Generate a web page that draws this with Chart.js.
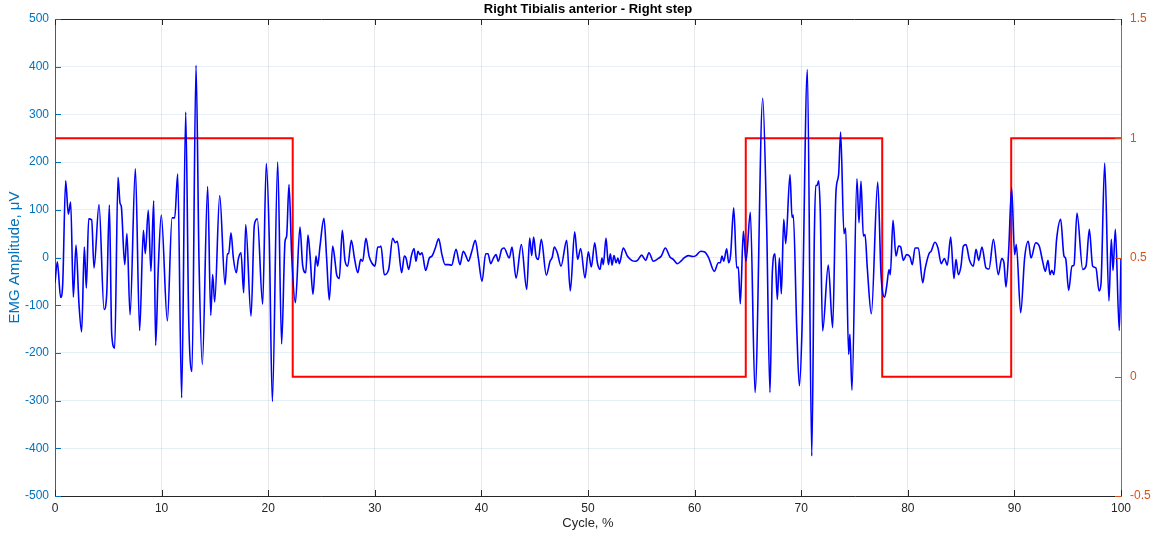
<!DOCTYPE html>
<html>
<head>
<meta charset="utf-8">
<script src="https://cdn.jsdelivr.net/npm/chart.js@4.4.1/dist/chart.umd.min.js"></script>
<style>
  html, body { margin: 0; padding: 0; background: #ffffff; }
  #wrap { width: 1152px; height: 533px; }
</style>
</head>
<body>
<div id="wrap"><canvas id="c" width="1152" height="533"></canvas></div>
<script>
// ---- Data ----
const chartTitle = 'Right Tibialis anterior - Right step';
const xTitle = 'Cycle, %';
const yTitle = 'EMG Amplitude, \u03BCV';

// EMG signal: cycle (%) and amplitude (µV)
const emgX = [
  0, 0.22, 0.53, 0.72, 1.00, 1.25, 1.47, 1.72, 1.97, 2.25, 2.50, 2.75, 2.94, 3.16, 3.44, 3.66, 4.13, 4.60, 4.85, 5.10,
  5.32, 5.60, 5.91, 6.10, 6.22, 6.54, 6.75, 7.04, 7.54, 7.94,
  8.29, 8.47, 8.75, 9.00, 9.26, 9.44, 9.69, 9.97, 10.54, 10.98, 11.23, 11.51, 11.88, 12.26, 12.54, 12.85, 13.23, 13.51,
  13.82, 14.32, 14.61, 14.79, 14.98, 15.45, 15.95, 16.17, 16.29, 16.51,
  16.73, 17.01, 17.19, 17.45, 17.70, 17.89, 18.39, 18.70, 18.98, 19.48, 19.82, 20.10, 20.39, 20.89, 21.26, 21.58, 21.73,
  21.95, 22.20, 22.55, 22.98, 23.23, 23.52, 23.73, 23.92, 24.20, 24.48, 24.64, 24.86, 25.23,
  25.48, 25.73, 26.05, 26.27, 26.42, 26.67, 26.95, 27.20, 27.46, 27.80, 28.11, 28.40, 28.68, 28.86, 29.17, 29.46, 29.71,
  30.02, 30.27, 30.49, 30.58, 30.89, 31.30, 31.68, 31.92, 32.11, 32.52, 32.77, 32.93, 33.18, 33.43,
  33.68, 33.86, 34.05, 34.24, 34.43, 34.77, 35.12, 35.37, 35.68, 35.99, 36.30, 36.59, 36.90, 37.21, 37.62, 37.99, 38.30,
  38.56, 38.77, 39.09, 39.43, 39.71, 40.06, 40.40, 40.62, 40.87, 41.12, 41.37, 41.59, 41.90,
  42.12, 42.62, 42.87, 43.25, 43.75, 44.25, 44.53, 44.72, 44.90, 45.12, 45.34, 45.62, 46.09, 46.44, 46.65, 46.84, 47.12,
  47.47, 48.00, 48.34, 48.75, 49.03, 49.31, 49.72, 50.03, 50.31, 50.63,
  50.88, 51.13, 51.31, 51.44, 51.69, 51.91, 52.10, 52.25, 52.44, 52.63, 52.81, 52.94, 53.31, 53.69, 54.10, 54.47, 54.72,
  55.03, 55.41, 55.72, 56.13, 56.60, 56.88, 57.25, 57.69, 58.00, 58.38, 58.79,
  59.01, 59.41, 59.82, 60.13, 60.57, 60.91, 61.29, 61.85, 62.23, 62.41, 62.57, 62.73, 63.01, 63.20, 63.38, 63.67, 63.95,
  64.10, 64.29, 64.57, 64.82, 65.23, 65.67, 66.39, 66.76, 67.07,
  67.29, 67.54, 67.76, 67.95, 68.14, 68.36, 68.55, 68.95, 69.14, 69.26, 69.58, 69.83, 70.08, 70.58, 70.99, 71.23, 71.36,
  71.48, 71.64, 71.79, 72.01, 72.54, 72.95, 73.26, 73.51, 73.70, 74.01, 74.17, 74.45, 74.57, 74.76, 75.23, 75.42, 75.61,
  75.83, 75.99, 76.20, 76.58, 77.18, 77.49, 77.83, 78.02, 78.24, 78.36, 78.61, 78.89, 79.14, 79.33, 79.58, 79.89, 80.21,
  80.42, 80.68, 80.99, 81.40, 81.61, 81.99, 82.18, 82.55, 82.83, 83.14, 83.43, 83.71, 84.02, 84.33,
  84.52, 84.74, 84.99, 85.21, 85.46, 85.77, 86.15, 86.40, 86.65, 86.96, 87.34, 87.62, 88.03, 88.49, 88.81, 89.02, 89.21,
  89.46, 89.74, 90.02, 90.18, 90.59, 90.96, 91.30, 91.56, 92.00, 92.33,
  92.65, 92.90, 93.15, 93.34, 93.50, 93.71, 93.96, 94.34, 94.65, 94.81, 95.09, 95.40, 95.59, 95.87, 96.41, 96.72, 97.03,
  97.34, 97.65, 97.94, 98.12, 98.47, 98.87, 99.09, 99.25, 99.47, 99.84, 100
];
const emgY = [
  -53, -9, -84, -57, 161, 91, 116, -83, 26, -98, -156, 22, -64, 81, 79, -22, 111, -109, -77, 110,
  -161, -190, 168, 114, 107, -15, 50, -120, 186, -153,
  57, 8, 99, -29, 119, -184, -22, 89, -133, 83, 83, 175, -294, 305, -126, -239, 403, -8,
  -224, 149, -121, -36, -93, 130, -57, 8, 8, 52,
  -1, -32, -4, 10, -74, 69, -123, 68, 81, -98, 197, 40, -302, 200, -181, 34, 45,
  153, 6, -95, 64, -16, -32, 47, 6, -77, 3, -18, 24, 82,
  -1, -89, 24, -8, -36, -44, 57, -6, -18, 36, -4, -32, -4, -8, 40, 3, -11,
  -18, 22, 22, 24, -36, -25, 40, 31, 34, -32, 3, -1, -25, 3,
  19, -8, 13, 6, 10, -27, -1, 3, 20, 39, 6, -15, -15, -16, 17, -15, 13,
  3, -8, 12, 36, -1, -50, 8, 8, -13, -2, 6, -8, 17,
  20, -1, 22, -43, 27, -67, 41, 4, 43, 3, -4, 38, -37, -8, 1, 22, 10,
  -18, 36, -70, 54, -4, 19, -43, 12, -20, 31,
  -11, -25, -1, -15, 41, -15, 8, -16, 4, -11, -1, -13, 20, 3, -6, -8, -4,
  5, -6, 10, -8, -2, 3, 20, 1, -4, -13, -6,
  -1, 4, 2, 4, 13, 12, 1, -29, -11, -11, 3, -8, 18, -11, 6, 104, -22,
  -20, -97, 55, -8, 95, -283, 334, 66, -283,
  -32, 8, -88, -1, -76, 80, 29, 174, 84, 89, -147, -269, -147, 394, -416, 41, 151,
  151, 161, 97, -154, -16, -147, 137, 174, 263, 50, 62, -203, -161, -278, 165, 73, 160,
  45, 48, -22, -118, 158, -36, -83, -60, -25, -36, 78, 3, 24, 22, -6, 6, 1,
  -15, 20, 20, -53, -25, 8, 13, 32, 20, -13, -2, -16, 43, -44,
  -4, -36, -18, 24, 27, -4, -18, 17, -6, 22, -22, -24, 38, -36, -2, -11, -62,
  13, 146, 6, 27, -116, -1, 34, -1, 31, 24,
  -8, -29, -6, -36, -27, -36, 38, 80, 3, -2, -69, -18, -16, 93, -25, -18, 59,
  -18, -22, -70, -56, 198, -91, 38, -27, 59, -153, -1
];

// Step (stance/swing) signal on right axis
const stepX = [0, 22.3, 22.3, 64.8, 64.8, 77.6, 77.6, 89.7, 89.7, 100];
const stepY = [1, 1, 0, 0, 1, 1, 0, 0, 1, 1];

// Axis ranges and tick steps
const xRange = [0, 100], xStep = 10;
const yRange = [-500, 500], yStep = 100;
const y1Range = [-0.5, 1.5], y1Step = 0.5;

// ---- Styling ----
const FONT = '"Liberation Sans", Arial, Helvetica, sans-serif';
const BLUE_AX = '#0072BD';
const ORANGE_AX = '#D95319';
const DARK = '#262626';

// Title centred over the plot area (MATLAB style) + inner tick marks + top box edge
const matlabDecor = {
  id: 'matlabDecor',
  afterDatasetsDraw(chart) {
    const { ctx, chartArea: a, scales } = chart;
    ctx.save();
    ctx.lineWidth = 1;
    ctx.strokeStyle = DARK;
    ctx.beginPath();
    ctx.moveTo(a.left, a.top + 0.5);
    ctx.lineTo(a.right, a.top + 0.5);
    ctx.stroke();
    const L = 6;
    scales.x.ticks.forEach(t => {
      const px = Math.round(scales.x.getPixelForValue(t.value)) + 0.5;
      ctx.beginPath();
      ctx.moveTo(px, a.bottom); ctx.lineTo(px, a.bottom - L);
      ctx.moveTo(px, a.top); ctx.lineTo(px, a.top + L);
      ctx.stroke();
    });
    ctx.strokeStyle = BLUE_AX;
    scales.y.ticks.forEach(t => {
      const py = Math.round(scales.y.getPixelForValue(t.value)) + 0.5;
      ctx.beginPath();
      ctx.moveTo(a.left, py); ctx.lineTo(a.left + L, py);
      ctx.stroke();
    });
    ctx.strokeStyle = ORANGE_AX;
    scales.y1.ticks.forEach(t => {
      const py = Math.round(scales.y1.getPixelForValue(t.value)) + 0.5;
      ctx.beginPath();
      ctx.moveTo(a.right, py); ctx.lineTo(a.right - L, py);
      ctx.stroke();
    });
    // title
    ctx.fillStyle = '#000000';
    ctx.font = 'bold 13px ' + FONT;
    ctx.textAlign = 'center';
    ctx.textBaseline = 'middle';
    ctx.fillText(chartTitle, (a.left + a.right) / 2, a.top / 2);
    ctx.restore();
  }
};

new Chart(document.getElementById('c'), {
  type: 'line',
  data: {
    datasets: [
      {
        label: 'EMG',
        data: emgX.map((x, i) => ({ x: x, y: emgY[i] })),
        yAxisID: 'y',
        borderColor: '#0000FF',
        borderWidth: 1.6,
        pointRadius: 0,
        cubicInterpolationMode: 'monotone',
        fill: false
      },
      {
        label: 'Step',
        data: stepX.map((x, i) => ({ x: x, y: stepY[i] })),
        yAxisID: 'y1',
        borderColor: '#FF0000',
        borderWidth: 2,
        pointRadius: 0,
        tension: 0,
        fill: false
      }
    ]
  },
  options: {
    responsive: false,
    animation: false,
    devicePixelRatio: 1,
    layout: { padding: { left: 0, right: 0, top: 19, bottom: 0 } },
    plugins: {
      legend: { display: false },
      tooltip: { enabled: false },
      title: { display: false }
    },
    scales: {
      x: {
        type: 'linear',
        min: xRange[0], max: xRange[1],
        afterFit: s => { s.height = 37; },
        ticks: {
          stepSize: xStep,
          color: DARK,
          padding: 5,
          maxRotation: 0,
          font: { family: FONT, size: 12 }
        },
        grid: { color: 'rgba(38,38,38,0.10)', drawTicks: false },
        border: { color: DARK, width: 1 },
        title: {
          display: true, text: xTitle, color: DARK,
          font: { family: FONT, size: 13 },
          padding: { top: 0, bottom: 2 }
        }
      },
      y: {
        type: 'linear',
        position: 'left',
        min: yRange[0], max: yRange[1],
        afterFit: s => { s.width = 55; },
        ticks: {
          stepSize: yStep,
          color: BLUE_AX,
          padding: 6,
          font: { family: FONT, size: 12 }
        },
        grid: { color: 'rgba(0,114,189,0.10)', drawTicks: false },
        border: { color: BLUE_AX, width: 1 },
        title: {
          display: true, text: yTitle, color: BLUE_AX,
          font: { family: FONT, size: 15 },
          padding: { top: 6, bottom: 0 }
        }
      },
      y1: {
        type: 'linear',
        position: 'right',
        min: y1Range[0], max: y1Range[1],
        afterFit: s => { s.width = 31; },
        ticks: {
          stepSize: y1Step,
          color: ORANGE_AX,
          padding: 9,
          font: { family: FONT, size: 12 },
          callback: v => String(Number(v.toFixed(2)))
        },
        grid: { drawOnChartArea: false, drawTicks: false },
        border: { color: ORANGE_AX, width: 1 }
      }
    }
  },
  plugins: [matlabDecor]
});
</script>
</body>
</html>
